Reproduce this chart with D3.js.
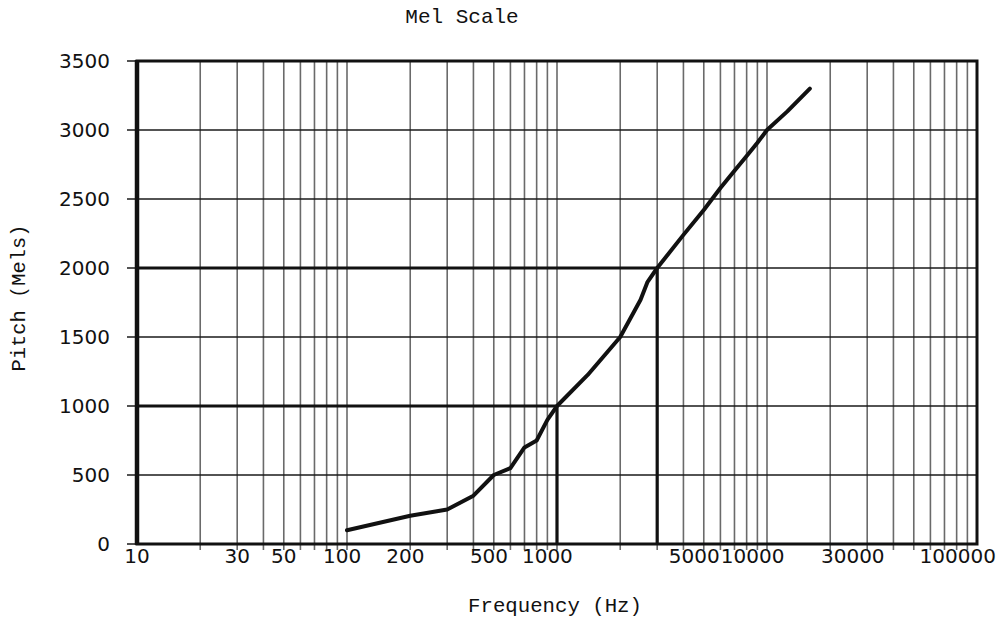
<!DOCTYPE html>
<html>
<head>
<meta charset="utf-8">
<script src="https://cdn.jsdelivr.net/npm/d3@7"></script>
<style>
  html, body { margin: 0; padding: 0; background: #fff; }
  svg { display: block; }
</style>
</head>
<body>
<svg id="chart" width="1003" height="619"></svg>
<script>
// Mel scale curve: perceived pitch (mels) against frequency (Hz)
const freqHz    = [100, 200, 300, 400, 500, 600, 700, 800, 900, 1000, 1400, 2000, 2500, 2700, 3000, 4000, 5000, 6000, 7000, 8000, 9000, 10000, 12500, 16000];
const pitchMels = [100, 205, 250, 350, 500, 550, 700, 750, 900, 1000, 1225, 1500, 1770, 1900, 2000, 2240, 2420, 2580, 2705, 2812, 2908, 3000, 3135, 3300];

// Reference markers: 1000 Hz -> 1000 mels, 3000 Hz -> 2000 mels
const refFreq = [1000, 3000];
const refMel  = [1000, 2000];

// Axis tick labels
const xTickLabels = [10, 30, 50, 100, 200, 500, 1000, 5000, 10000, 30000, 100000];
const yTickLabels = [0, 500, 1000, 1500, 2000, 2500, 3000, 3500];

const svg = d3.select("#chart");
const plotL = 137, plotR = 977, plotT = 61, plotB = 544;

const x = d3.scaleLog().domain([10, 100000]).range([plotL, plotR]);
const y = d3.scaleLinear().domain([0, 3500]).range([plotB, plotT]);

// vertical log grid: 1..9 within each decade
const xGrid = [];
for (let d = 10; d < 100000; d *= 10) {
  for (let k = 1; k <= 9; k++) xGrid.push(d * k);
}

svg.append("g").selectAll("line")
  .data(xGrid.filter(v => v > 10))
  .join("line")
  .attr("x1", d => x(d)).attr("x2", d => x(d))
  .attr("y1", plotT).attr("y2", plotB + 6)
  .attr("stroke", "#6a6a6a").attr("stroke-width", 1.6);

// horizontal grid
svg.append("g").selectAll("line")
  .data(yTickLabels.filter(v => v > 0 && v < 3500))
  .join("line")
  .attr("x1", plotL - 10).attr("x2", plotR)
  .attr("y1", d => y(d)).attr("y2", d => y(d))
  .attr("stroke", "#1a1a1a").attr("stroke-width", 1.5);

// y tick stubs at the ends
svg.append("g").selectAll("line")
  .data([0, 3500])
  .join("line")
  .attr("x1", plotL - 10).attr("x2", plotL)
  .attr("y1", d => y(d)).attr("y2", d => y(d))
  .attr("stroke", "#1a1a1a").attr("stroke-width", 1.5);

// frame
svg.append("rect")
  .attr("x", plotL).attr("y", plotT)
  .attr("width", plotR - plotL).attr("height", plotB - plotT)
  .attr("fill", "none").attr("stroke", "#111").attr("stroke-width", 3);
svg.append("line")
  .attr("x1", plotL).attr("x2", plotL).attr("y1", plotT - 1).attr("y2", plotB + 1)
  .attr("stroke", "#111").attr("stroke-width", 4.5);

// reference lines
refFreq.forEach((f, i) => {
  const m = refMel[i];
  svg.append("path")
    .attr("d", `M${x(10)},${y(m)}H${x(f)}V${y(0)}`)
    .attr("fill", "none").attr("stroke", "#111").attr("stroke-width", 3.2);
});

// mel curve
const pts = freqHz.map((f, i) => [f, pitchMels[i]]);
svg.append("path")
  .datum(pts)
  .attr("d", d3.line().x(d => x(d[0])).y(d => y(d[1])))
  .attr("fill", "none").attr("stroke", "#111")
  .attr("stroke-width", 4).attr("stroke-linejoin", "round").attr("stroke-linecap", "round");

// x tick labels
svg.append("g").selectAll("text")
  .data(xTickLabels)
  .join("text")
  .attr("x", d => x(d) - (String(d).length - 2) * 4.8)
  .attr("y", 563)
  .attr("text-anchor", "middle")
  .attr("font-family", "DejaVu Sans")
  .attr("font-size", 20)
  .attr("fill", "#111")
  .text(d => d);

// y tick labels
svg.append("g").selectAll("text")
  .data(yTickLabels)
  .join("text")
  .attr("x", 110)
  .attr("y", d => y(d))
  .attr("dy", "0.36em")
  .attr("text-anchor", "end")
  .attr("font-family", "DejaVu Sans")
  .attr("font-size", 20)
  .attr("fill", "#111")
  .text(d => d);

// title and axis titles
svg.append("text")
  .attr("x", 462).attr("y", 23)
  .attr("text-anchor", "middle")
  .attr("font-family", "Liberation Mono")
  .attr("font-size", 21)
  .attr("fill", "#111")
  .text("Mel Scale");

svg.append("text")
  .attr("x", 555).attr("y", 612)
  .attr("text-anchor", "middle")
  .attr("font-family", "Liberation Mono")
  .attr("font-size", 20.7)
  .attr("fill", "#111")
  .text("Frequency (Hz)");

svg.append("text")
  .attr("transform", "translate(25,298) rotate(-90)")
  .attr("text-anchor", "middle")
  .attr("font-family", "Liberation Mono")
  .attr("font-size", 20.4)
  .attr("fill", "#111")
  .text("Pitch (Mels)");
</script>
</body>
</html>
